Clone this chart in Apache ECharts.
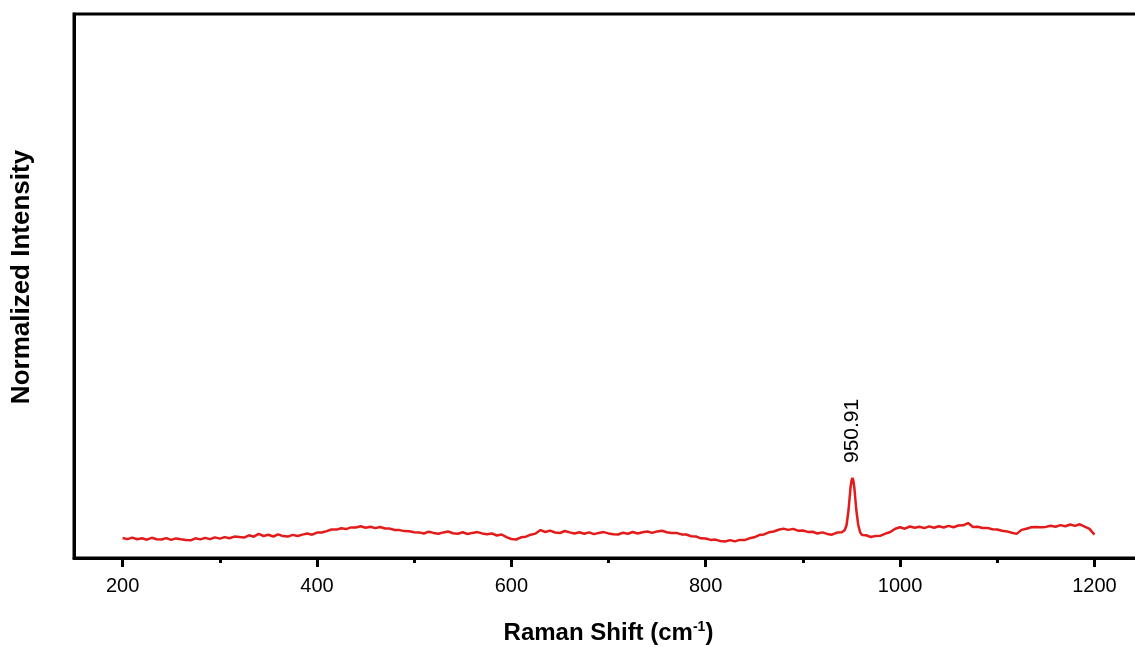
<!DOCTYPE html>
<html>
<head>
<meta charset="utf-8">
<script src="https://cdn.jsdelivr.net/npm/echarts@6/dist/echarts.min.js"></script>
<style>html,body{margin:0;padding:0;background:#fff;overflow:hidden}#c{width:1150px;height:647px}</style>
</head>
<body>
<div id="c"></div>
<script>
// Raman shift (cm-1) and intensity (arbitrary units)
var ramanShift = [
200,205,210,215,220,225,230,235,240,245,250,255,260,265,270,275,280,285,290,295,
300,305,310,315,320,325,330,335,340,345,350,355,360,365,370,375,380,385,390,395,
400,405,410,415,420,425,430,435,440,445,450,455,460,465,470,475,480,485,490,495,
500,505,510,515,520,525,530,535,540,545,550,555,560,565,570,575,580,585,590,595,
600,605,610,615,620,625,630,635,640,645,650,655,660,665,670,675,680,685,690,695,
700,705,710,715,720,725,730,735,740,745,750,755,760,765,770,775,780,785,790,795,
800,805,810,815,820,825,830,835,840,845,850,855,860,865,870,875,880,885,890,895,
900,905,910,915,920,925,930,935,940,943,945,947,949,950,951,952,953,955,957,959,
961,965,970,975,980,985,990,995,
1000,1005,1010,1015,1020,1025,1030,1035,1040,1045,1050,1055,1060,1065,1070,1075,1080,1085,1090,1095,
1100,1105,1110,1115,1120,1125,1130,1135,1140,1145,1150,1155,1160,1165,1170,1175,1180,1185,1190,1195,1200
];
var intensity = [
20.0,18.9,20.4,18.7,19.7,18.3,20.2,18.8,18.5,19.9,18.1,19.6,18.7,17.9,17.7,19.7,18.6,20.1,18.9,20.6,
19.4,20.9,19.7,21.4,21.0,20.4,22.7,21.3,24.1,22.0,23.2,21.5,23.7,21.9,21.4,23.1,22.0,23.4,24.5,23.3,
25.4,25.5,26.9,28.5,28.4,29.7,28.9,30.6,30.5,31.7,30.3,31.3,29.9,31.0,29.5,29.4,28.0,27.9,26.9,26.7,
25.8,25.6,24.5,26.3,25.1,24.3,25.6,26.5,24.8,24.2,25.7,24.0,25.1,25.9,24.6,23.7,24.6,22.5,23.5,20.8,
19.0,18.5,20.7,21.3,23.3,24.4,27.9,26.0,27.4,25.5,25.0,27.0,25.6,24.5,25.7,24.3,25.6,23.9,25.1,25.9,
24.6,23.8,23.5,25.3,24.3,26.0,24.5,25.8,26.5,25.1,26.6,27.3,25.8,24.9,25.1,23.6,23.5,21.8,21.6,19.7,
19.5,18.1,18.4,17.0,16.5,17.9,16.6,18.1,17.9,19.7,20.7,22.9,23.6,25.7,26.5,28.2,29.4,28.1,29.1,27.3,
27.5,26.1,26.2,24.5,25.6,24.1,23.3,25.4,25.8,27.8,33.0,48.0,70.0,77.0,80.0,77.0,70.0,48.0,33.0,25.5,
22.9,22.7,21.0,22.1,22.3,24.4,26.0,29.2,
30.7,29.3,31.5,30.2,31.3,29.9,31.6,30.3,31.8,30.5,32.1,30.8,32.5,32.7,34.9,31.1,31.3,30.0,30.1,28.7,
28.5,27.2,26.6,25.3,24.1,28.1,29.3,30.7,30.9,30.8,31.1,32.3,31.3,32.9,31.8,33.5,32.1,33.7,31.3,29.1,23.4
];
var majorTicks = [200, 400, 600, 800, 1000, 1200];
var minorTicks = [300, 500, 700, 900, 1100];
var peakShift = 950.91;
var peakIntensity = 80;

var seriesData = ramanShift.map(function (x, i) { return [x, intensity[i]]; });

var chart = echarts.init(document.getElementById('c'));
var font = 'Liberation Sans, Arial, Helvetica, sans-serif';
chart.setOption({
  animation: false,
  grid: {
    left: 74, top: 14, width: 1069, height: 544,
    outerBoundsMode: 'none', containLabel: false,
    show: true, borderColor: '#000', borderWidth: 3, backgroundColor: 'transparent'
  },
  xAxis: [{
    type: 'value', min: 150, max: 1250, position: 'bottom',
    axisLine: { show: true, lineStyle: { color: '#000', width: 3 } },
    axisTick: { show: true, inside: false, length: 9, customValues: majorTicks, lineStyle: { color: '#000', width: 3 } },
    axisLabel: { show: true, customValues: majorTicks, margin: 18, color: '#000', fontSize: 20, fontFamily: font,
      formatter: function (v) { return String(v); } },
    splitLine: { show: false },
    name: 'Raman Shift (cm{sup|-1})',
    nameLocation: 'middle', nameGap: 62,
    nameTextStyle: {
      color: '#000', fontSize: 24, fontWeight: 'bold', fontFamily: font,
      rich: { sup: { fontSize: 14, fontWeight: 'bold', fontFamily: font, color: '#000', verticalAlign: 'top', padding: [0, 0, 12, 0] } }
    }
  }, {
    type: 'value', min: 150, max: 1250, position: 'bottom',
    axisLine: { show: false },
    axisTick: { show: true, inside: false, length: 5, customValues: minorTicks, lineStyle: { color: '#000', width: 3 } },
    axisLabel: { show: false },
    splitLine: { show: false }
  }],
  yAxis: {
    type: 'value', min: 0, max: 544,
    axisLine: { show: true, lineStyle: { color: '#000', width: 3 } },
    axisTick: { show: false },
    axisLabel: { show: false },
    splitLine: { show: false }
  },
  graphic: [{
    type: 'text', x: 22, y: 277, rotation: Math.PI / 2,
    style: { text: 'Normalized Intensity', fill: '#000', fontSize: 26, fontWeight: 'bold', fontFamily: font, align: 'center', verticalAlign: 'middle' }
  }],
  series: [{
    type: 'line', xAxisIndex: 0, yAxisIndex: 0,
    data: seriesData, showSymbol: false, symbol: 'none',
    lineStyle: { color: '#e31b1b', width: 2.5 },
    markPoint: {
      symbol: 'circle', symbolSize: 0,
      data: [{ coord: [peakShift, peakIntensity] }],
      label: {
        show: true, formatter: String(peakShift), position: 'top', distance: 15,
        rotate: 90, align: 'left', verticalAlign: 'middle',
        color: '#000', fontSize: 21, fontFamily: font
      }
    }
  }]
});
</script>
</body>
</html>
